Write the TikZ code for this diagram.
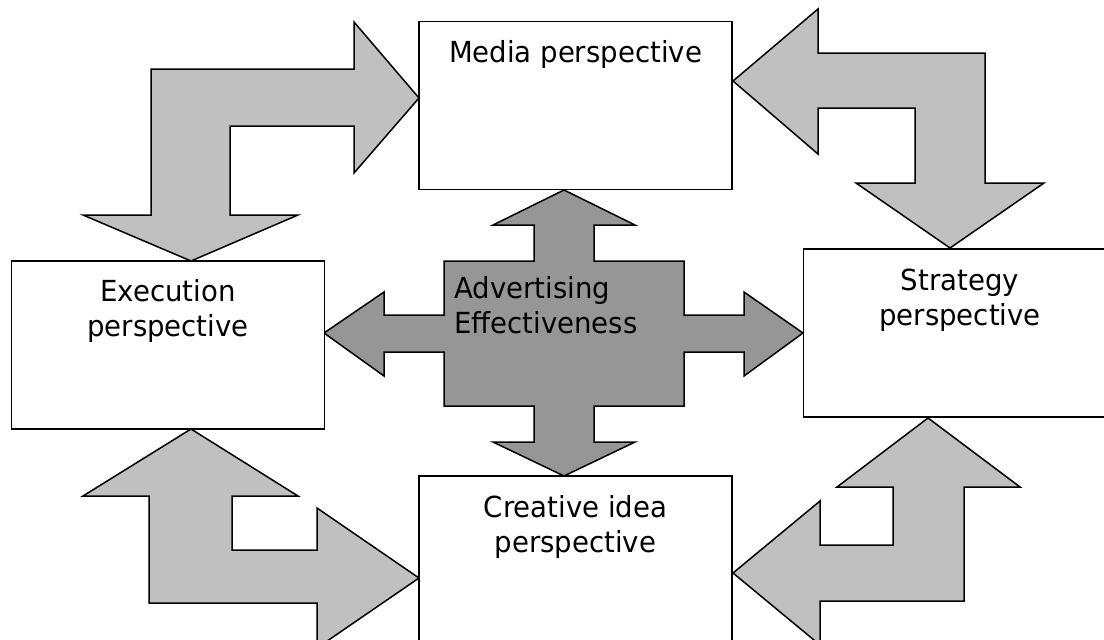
\documentclass[tikz,border=0pt]{standalone}
\usepackage{fontspec}
\setmainfont[FakeStretch=0.95]{DejaVu Sans}
\definecolor{lightarrow}{RGB}{192,192,192}
\definecolor{darkarrow}{RGB}{150,150,150}
\begin{document}
\begin{tikzpicture}[x=1pt,y=-1pt,
    box/.style={draw=black, fill=white, line width=1.5pt, minimum width=313pt, minimum height=168pt, inner sep=0pt},
    txt/.style={anchor=base, align=center, inner sep=0pt, font=\fontsize{29}{35}\selectfont},
    blockarrow/.style={draw=black, fill=lightarrow, line width=1.5pt, line join=miter},
    crossarrow/.style={blockarrow, fill=darkarrow}]
      \useasboundingbox (0,0) rectangle (1104,640);
      \clip (0,0) rectangle (1104,640);
      % bent arrows
      \draw[blockarrow] (419,98) -- (354,22) -- (354,69) -- (151,69) -- (151,215) -- (83,215) -- (191,261) -- (298,215) -- (230,215) -- (230,126) -- (354,126) -- (354,173) -- cycle;
      \draw[blockarrow] (733,81) -- (818,9) -- (818,53) -- (985,53) -- (985,183) -- (1044,183) -- (950,248) -- (856,183) -- (915,183) -- (915,108) -- (818,108) -- (818,154) -- cycle;
      \draw[blockarrow] (191,429) -- (298,496) -- (232,496) -- (232,550) -- (317,550) -- (317,508) -- (419,578) -- (317,648) -- (317,603) -- (149,603) -- (149,496) -- (83,496) -- cycle;
      \draw[blockarrow] (928,418) -- (1020,487) -- (964,487) -- (964,601) -- (820,601) -- (820,645) -- (733,573) -- (820,501) -- (820,545) -- (893,545) -- (893,487) -- (837,487) -- cycle;
      % centre cross
      \draw[crossarrow] (564,190) -- (635,225) -- (594,225) -- (594,261) -- (684,261) -- (684,315) -- (744,315) -- (744,292) -- (803,333) -- (744,376) -- (744,352) -- (684,352) -- (684,406) -- (594,406) -- (594,442) -- (635,442) -- (564,476) -- (493,442) -- (534,442) -- (534,406) -- (444,406) -- (444,352) -- (384,352) -- (384,376) -- (324,333) -- (384,292) -- (384,315) -- (444,315) -- (444,261) -- (534,261) -- (534,225) -- (493,225) -- cycle;
      \node[txt, anchor=base west, align=left] (adtxt) at (454,333) {Advertising\\Effectiveness};
      % boxes
      \node[box] (media) at (575.5,105.5) {};
      \node[box] (exec) at (168,345) {};
      \node[box] (strat) at (960,333) {};
      \node[box] (creat) at (575.5,560) {};
      \node[txt] (mediatxt) at (575.5,62) {Media perspective};
      \node[txt] (exectxt) at (168,336) {Execution\\perspective};
      \node[txt] (strattxt) at (960,325) {Strategy\\perspective};
      \node[txt] (creattxt) at (575.5,552) {Creative idea\\perspective};
\end{tikzpicture}
\end{document}
